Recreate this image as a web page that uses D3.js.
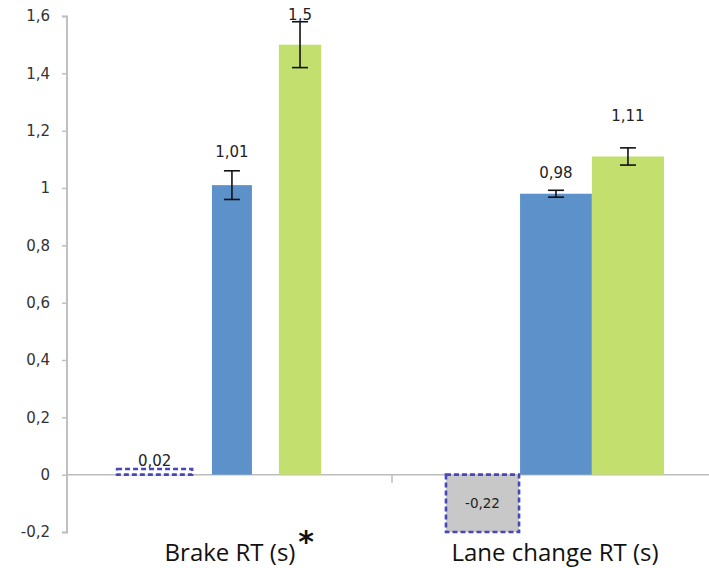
<!DOCTYPE html>
<html>
<head>
<meta charset="utf-8">
<script src="https://cdn.jsdelivr.net/npm/d3@7"></script>
<style>
  body { margin: 0; background: #fff; }
  svg { display: block; }
</style>
</head>
<body>
<svg id="chart" width="709" height="568"></svg>
<script>
// data
let categories = ['Brake RT (s)', 'Lane change RT (s)'];
let series = ['diff', 'blue', 'green'];
let brakeValues = [0.02, 1.01, 1.5];
let laneValues = [-0.22, 0.98, 1.11];
let brakeErrors = [null, 0.05, 0.08];
let laneErrors = [null, 0.012, 0.03];
let barLabels = [['0,02', '1,01', '1,5'], ['-0,22', '0,98', '1,11']];
let yTicks = [-0.2, 0, 0.2, 0.4, 0.6, 0.8, 1, 1.2, 1.4, 1.6];

// layout (fractions of the category band) and label gaps, style only
let slots = [
    [[0.151, 0.388], [0.446, 0.569], [0.652, 0.782]],
    [[0.163, 0.394], [0.394, 0.615], [0.615, 0.837]]
];
let labelGap = [[3, 28, 25], [0, 16, 35]];
let colors = { diff: '#ffffff', blue: '#5c91c9', green: '#c3e06e' };
let numFont = "'DejaVu Sans', Verdana, sans-serif";

let svg = d3.select('#chart');
let values = [brakeValues, laneValues];
let errors = [brakeErrors, laneErrors];

let y = d3.scaleLinear().domain([-0.2, 1.6]).range([532, 16]);
let x = d3.scaleBand().domain(categories).range([67, 717]);
let sub = d3.scaleLinear().domain([0, 1]).range([0, x.bandwidth()]);

let fmt = v => (Number.isInteger(v) ? String(v) : v.toFixed(1).replace('.', ','));

// y axis
let yAxis = d3.axisLeft(y).tickValues(yTicks).tickSize(5).tickFormat(fmt);
let ga = svg.append('g').attr('transform', 'translate(67,0)').call(yAxis);
ga.select('.domain').attr('stroke', '#c0c0c0').attr('stroke-width', 2).attr('d', 'M-5,16.5H0V532.5H-5');
ga.selectAll('.tick line').attr('stroke', '#c0c0c0').attr('stroke-width', 1.5);
ga.selectAll('.tick text')
    .attr('x', -17)
    .attr('fill', '#333')
    .attr('font-family', numFont)
    .attr('font-size', 15);

// zero line and category separator
svg.append('path')
    .attr('d', d3.line()([[67, y(0)], [709, y(0)]]))
    .attr('stroke', '#bdbdbd').attr('stroke-width', 1.5).attr('fill', 'none');
svg.append('path')
    .attr('d', d3.line()([[x(categories[1]), y(0)], [x(categories[1]), y(0) + 8]]))
    .attr('stroke', '#bdbdbd').attr('stroke-width', 1.5);

// bars
categories.forEach((cat, gi) => {
    series.forEach((s, si) => {
        let v = values[gi][si];
        let x0 = x(cat) + sub(slots[gi][si][0]);
        let x1 = x(cat) + sub(slots[gi][si][1]);
        let vc = Math.max(v, y.domain()[0]);
        let top = y(Math.max(vc, 0));
        let bot = y(Math.min(vc, 0));
        let rect = svg.append('rect')
            .attr('x', x0)
            .attr('width', x1 - x0)
            .attr('y', top)
            .attr('height', bot - top);
        if (s == 'diff') {
            rect.attr('fill', v < 0 ? '#c8c8c8' : colors.diff)
                .attr('stroke', '#4747b8')
                .attr('stroke-width', 2.6)
                .attr('stroke-dasharray', '5 3')
                .attr('x', x0 + 1)
                .attr('width', x1 - x0 - 2);
        } else {
            rect.attr('fill', colors[s]);
        }
    });
});

// error bars
categories.forEach((cat, gi) => {
    series.forEach((s, si) => {
        let e = errors[gi][si];
        if (e == null) return;
        let v = values[gi][si];
        let cx = x(cat) + sub((slots[gi][si][0] + slots[gi][si][1]) / 2);
        let g = svg.append('g').attr('stroke', '#111').attr('stroke-width', 1.6);
        g.append('path').attr('d', d3.line()([[cx, y(v + e)], [cx, y(v - e)]]));
        g.append('path').attr('d', d3.line()([[cx - 8, y(v + e)], [cx + 8, y(v + e)]]));
        g.append('path').attr('d', d3.line()([[cx - 8, y(v - e)], [cx + 8, y(v - e)]]));
    });
});

// bar labels
categories.forEach((cat, gi) => {
    series.forEach((s, si) => {
        let v = values[gi][si];
        let cx = x(cat) + sub((slots[gi][si][0] + slots[gi][si][1]) / 2);
        let ty = v < 0 ? (y(0) + y(y.domain()[0])) / 2 + 5 : y(v) - labelGap[gi][si];
        svg.append('text')
            .attr('x', cx)
            .attr('y', ty)
            .attr('text-anchor', 'middle')
            .attr('fill', '#222')
            .attr('font-family', numFont)
            .attr('font-size', v < 0 ? 13.5 : 15)
            .text(barLabels[gi][si]);
    });
});

// category labels
let catCenters = [230, 555];
categories.forEach((cat, gi) => {
    svg.append('text')
        .attr('x', catCenters[gi])
        .attr('y', 561)
        .attr('text-anchor', 'middle')
        .attr('fill', '#111')
        .attr('font-family', "'Open Sans', sans-serif")
        .attr('font-size', 24)
        .text(cat);
});
svg.append('text')
    .attr('x', 306)
    .attr('y', 552)
    .attr('text-anchor', 'middle')
    .attr('font-family', "'DejaVu Sans', sans-serif")
    .attr('font-weight', 'bold')
    .attr('font-size', 30)
    .attr('fill', '#111')
    .text('*');
</script>
</body>
</html>
